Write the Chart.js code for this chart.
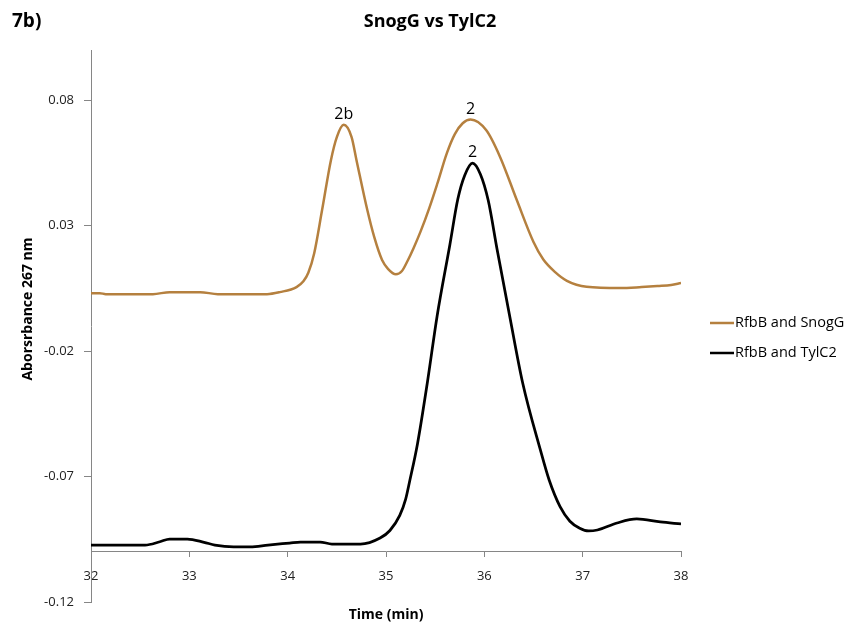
<!DOCTYPE html>
<html>
<head>
<meta charset="utf-8">
<script src="https://cdn.jsdelivr.net/npm/chart.js@4.4.1/dist/chart.umd.min.js"></script>
<style>
html, body { margin: 0; padding: 0; background: #fff; }
</style>
</head>
<body>
<canvas id="myChart" width="849" height="628"></canvas>
<script>
// Data

var snogTime = [32.00, 32.09, 32.15, 32.63, 32.80, 33.11, 33.29, 33.79, 33.92, 34.09, 34.16, 34.21, 34.27, 34.35, 34.44, 34.50, 34.57, 34.65, 34.70, 34.81, 34.88, 34.96, 35.02, 35.10, 35.16, 35.22, 35.28, 35.35, 35.44, 35.52, 35.62, 35.70, 35.78, 35.86, 36.02, 36.16, 36.33, 36.50, 36.60, 36.72, 36.84, 37.04, 37.38, 37.60, 37.76, 37.90, 38.00];
var snogAbs  = [0.0031, 0.0031, 0.0027, 0.0027, 0.0035, 0.0035, 0.0027, 0.0027, 0.0035, 0.0055, 0.0078, 0.0112, 0.0190, 0.0362, 0.0561, 0.0653, 0.0702, 0.0653, 0.0561, 0.0362, 0.0255, 0.0163, 0.0128, 0.0106, 0.0118, 0.0160, 0.0210, 0.0275, 0.0370, 0.0465, 0.0590, 0.0665, 0.0708, 0.0723, 0.0680, 0.0574, 0.0402, 0.0235, 0.0165, 0.0115, 0.0080, 0.0056, 0.0051, 0.0055, 0.0059, 0.0063, 0.0071];

var tylTime = [32.00, 32.55, 32.70, 32.80, 32.98, 33.15, 33.26, 33.45, 33.62, 33.80, 34.02, 34.13, 34.33, 34.45, 34.74, 34.94, 35.04, 35.14, 35.20, 35.24, 35.32, 35.42, 35.52, 35.65, 35.73, 35.80, 35.88, 35.96, 36.04, 36.13, 36.26, 36.39, 36.57, 36.66, 36.77, 36.87, 36.97, 37.06, 37.15, 37.35, 37.55, 37.79, 38.00];
var tylAbs  = [-0.0973, -0.0973, -0.0960, -0.0949, -0.0949, -0.0962, -0.0973, -0.0980, -0.0980, -0.0973, -0.0965, -0.0961, -0.0961, -0.0969, -0.0969, -0.0945, -0.0915, -0.0855, -0.0790, -0.0720, -0.0570, -0.0327, -0.0060, 0.0225, 0.0405, 0.0500, 0.0549, 0.0505, 0.0400, 0.0205, -0.0065, -0.0327, -0.0594, -0.0715, -0.0820, -0.0878, -0.0906, -0.0917, -0.0913, -0.0885, -0.0869, -0.0881, -0.0889];

var seriesNames = ['RfbB and SnogG', 'RfbB and TylC2'];
var seriesColors = ['#B5803F', '#000000'];

var yTicks = [-0.12, -0.07, -0.02, 0.03, 0.08];
var xTicks = [32, 33, 34, 35, 36, 37, 38];

var peakText = ['2b', '2', '2'];
var peakTime = [34.57, 35.86, 35.88];
var peakAbs  = [0.0702, 0.0723, 0.0549];

function toPoints(xs, ys) {
	var pts = [];
	for (var i = 0; i < xs.length; i++) pts.push({x: xs[i], y: ys[i]});
	return pts;
}

var FONT = "'Open Sans', 'DejaVu Sans', sans-serif";

// Extra texts: panel tag, title, axis titles, peak labels, legend
var extraText = {
	id: 'extraText',
	afterDraw: function(chart) {
		var ctx = chart.ctx;
		var xs = chart.scales.x, ys = chart.scales.y;
		ctx.save();
		ctx.fillStyle = '#000';

		ctx.font = 'bold 19px ' + FONT;
		ctx.textAlign = 'left';
		ctx.textBaseline = 'middle';
		ctx.fillText('7b)', 12, 22);
		ctx.font = 'bold 18px ' + FONT;
		ctx.textAlign = 'center';
		ctx.fillText('SnogG vs TylC2', 430, 22);

		ctx.font = 'bold 14px ' + FONT;
		ctx.fillText('Time (min)', 386, 615);

		ctx.save();
		ctx.translate(28, 309);
		ctx.rotate(-Math.PI / 2);
		ctx.fillText('Aborsrbance 267 nm', 0, 0);
		ctx.restore();

		ctx.font = '16px ' + FONT;
		ctx.textBaseline = 'alphabetic';
		for (var i = 0; i < peakText.length; i++) {
			ctx.fillText(peakText[i], xs.getPixelForValue(peakTime[i]), ys.getPixelForValue(peakAbs[i]) - 6);
		}

		ctx.font = '14.5px ' + FONT;
		ctx.textAlign = 'left';
		ctx.textBaseline = 'middle';
		for (var j = 0; j < seriesNames.length; j++) {
			var ly = 323 + j * 30;
			ctx.strokeStyle = seriesColors[j];
			ctx.lineWidth = 2.5;
			ctx.beginPath();
			ctx.moveTo(710, ly);
			ctx.lineTo(734, ly);
			ctx.stroke();
			ctx.fillStyle = '#000';
			ctx.fillText(seriesNames[j], 735, ly);
		}
		ctx.restore();
	}
};

var Ctxt = document.getElementById('myChart').getContext('2d');

var ChartInst = new Chart(Ctxt, {
	type: 'line',
	data: {
		datasets: [{
			label: seriesNames[0],
			data: toPoints(snogTime, snogAbs),
			borderColor: seriesColors[0],
			borderWidth: 2.5,
			pointRadius: 0,
			cubicInterpolationMode: 'monotone',
			fill: false
			},
			{
			label: seriesNames[1],
			data: toPoints(tylTime, tylAbs),
			borderColor: seriesColors[1],
			borderWidth: 2.75,
			pointRadius: 0,
			cubicInterpolationMode: 'monotone',
			fill: false
			}]
		},
	options: {
		responsive: false,
		animation: false,
		layout: { padding: { left: 0, right: 168, top: 50, bottom: 26 } },
		plugins: {
			legend: { display: false },
			tooltip: { enabled: false },
			title: { display: false }
			},
		scales: {
			x: {
				type: 'linear',
				position: { y: -0.1 },
				min: 32,
				max: 38,
				afterBuildTicks: function(s) { s.ticks = xTicks.map(function(v) { return {value: v}; }); },
				ticks: { color: '#222', font: { family: FONT, size: 13 }, padding: 12 },
				grid: { drawOnChartArea: false, drawTicks: true, tickLength: 5, color: '#868686' },
				border: { color: '#868686', width: 1 }
				},
			y: {
				type: 'linear',
				position: 'left',
				min: -0.12,
				max: 0.1,
				afterBuildTicks: function(s) { s.ticks = yTicks.map(function(v) { return {value: v}; }); },
				afterFit: function(s) { s.width = 91; },
				ticks: {
					color: '#222',
					font: { family: FONT, size: 13 },
					padding: 10,
					callback: function(v) { return v.toFixed(2); }
					},
				grid: { drawOnChartArea: false, drawTicks: true, tickLength: 7, color: '#868686' },
				border: { color: '#868686', width: 1 }
				}
			}
		},
	plugins: [extraText]
});
</script>
</body>
</html>
